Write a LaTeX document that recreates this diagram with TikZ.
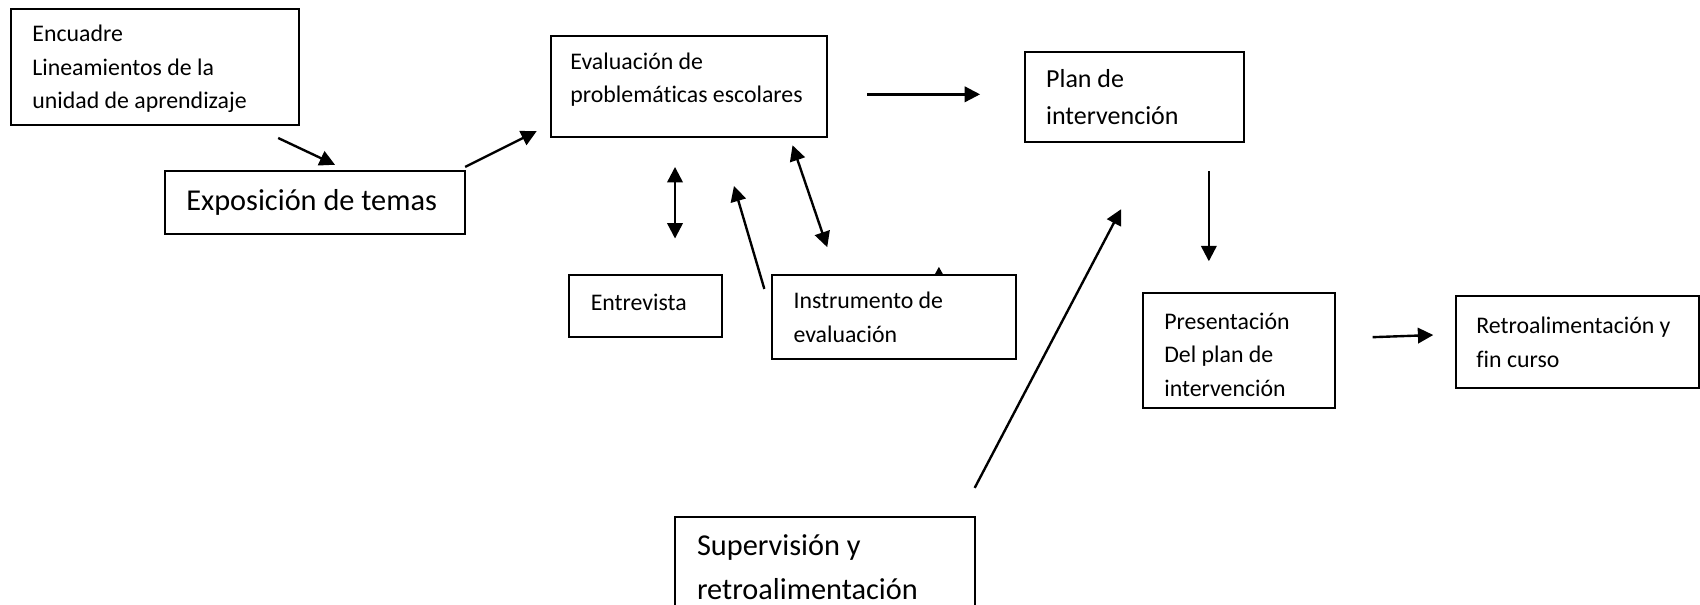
\documentclass[tikz,border=0pt]{standalone}
\usepackage{fontspec}
\setmainfont{Carlito}[Ligatures=NoCommon]
\usetikzlibrary{positioning, arrows.meta}

\begin{document}
\begin{tikzpicture}[x=0.0176cm, y=-0.0176cm,
    caja/.style={draw, line width=0.9pt, anchor=north west, align=flush left, outer sep=0pt, inner xsep=0.35cm, inner ysep=0.1cm},
    chica/.style={font=\fontsize{11}{15.5}\selectfont},
    media/.style={font=\fontsize{12}{17.5}\selectfont},
    grande/.style={font=\fontsize{14}{20}\selectfont},
    flecha/.style={line width=1.1pt, -{Stealth[inset=0pt, length=0.25cm, width=0.25cm]}},
    doble/.style={line width=1.1pt, {Stealth[inset=0pt, length=0.25cm, width=0.25cm]}-{Stealth[inset=0pt, length=0.25cm, width=0.25cm]}}]
    \useasboundingbox (0,0) rectangle (1568,558);
    \clip (0,0) rectangle (1568,558);

    \node[caja, chica, text width=3.98cm, minimum height=1.88cm, text depth=30.5pt] (Encuadre) at (10,8) {Encuadre\\Lineamientos de la\\unidad de aprendizaje};
    \node[caja, chica, inner xsep=0.32cm, text width=3.85cm, minimum height=1.65cm, text depth=0.84cm] (Evaluacion) at (508,33) {Evaluación de\\problemáticas escolares};
    \node[caja, media, text width=2.86cm, minimum height=1.46cm] (Plan) at (945,48) {Plan de\\intervención};
    \node[caja, grande, text width=4.175cm, minimum height=1.02cm] (Exposicion) at (152,158) {Exposición de temas};
    \node[caja, chica, text width=1.78cm, minimum height=1.0cm, text depth=4pt] (Entrevista) at (525,254) {Entrevista};
    \node[caja, chica, text width=3.26cm, minimum height=1.355cm] (Instrumento) at (712,254) {Instrumento de\\evaluación};
    \node[caja, chica, text width=2.415cm, minimum height=1.866cm, text depth=27pt] (Presentacion) at (1054,270) {Presentación\\Del plan de\\intervención};
    \node[caja, chica, inner xsep=0.33cm, text width=3.28cm, minimum height=1.5cm] (Retro) at (1343,273) {Retroalimentación y\\fin curso};
    \node[caja, grande, text width=4.16cm, minimum height=1.62cm] (Supervision) at (623,477) {Supervisión y\\retroalimentación};

    \coordinate (e1) at (256.6,127.3);
    \coordinate (e2) at (309,152);
    \coordinate (x1) at (429,154);
    \coordinate (x2) at (495,121);
    \coordinate (v1) at (800,87);
    \coordinate (v2) at (904,87);
    \coordinate (p1) at (1115,158);
    \coordinate (p2) at (1115,241);
    \coordinate (r1) at (1266,311);
    \coordinate (r2) at (1322,309);
    \coordinate (s1) at (899,450);
    \coordinate (s2) at (1034,193);
    \coordinate (n1) at (622.6,154);
    \coordinate (n2) at (622.6,220);
    \coordinate (i1) at (705,266.5);
    \coordinate (i2) at (677,171.5);
    \coordinate (d1) at (731,134);
    \coordinate (d2) at (763,228);
    \coordinate (t1) at (866,254);
    \coordinate (t2) at (866,246);

    \draw[flecha] (e1) -- (e2);
    \draw[flecha] (x1) -- (x2);
    \draw[flecha] (v1) -- (v2);
    \draw[flecha] (p1) -- (p2);
    \draw[flecha] (r1) -- (r2);
    \draw[flecha] (s1) -- (s2);
    \draw[flecha] (i1) -- (i2);
    \draw[doble] (n1) -- (n2);
    \draw[doble] (d1) -- (d2);
    \draw[line width=1.1pt, -{Stealth[inset=0pt, length=0.14cm, width=0.14cm]}] (t1) -- (t2);
\end{tikzpicture}
\end{document}
